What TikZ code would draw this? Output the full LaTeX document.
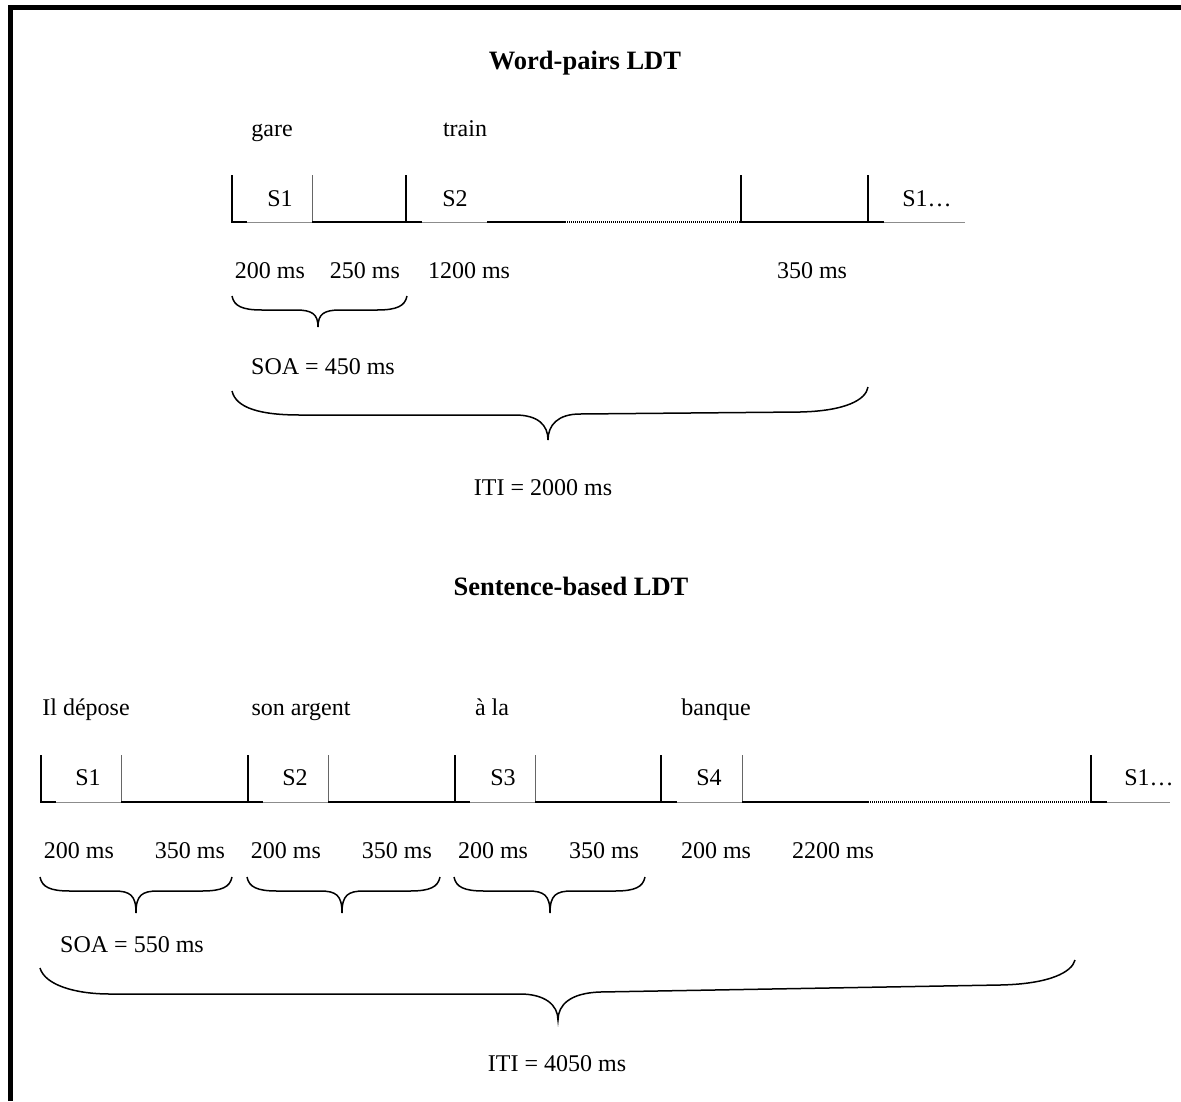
\documentclass[tikz,border=0pt]{standalone}
\usepackage{fontspec}
\setmainfont{Liberation Serif}
\begin{document}
\begin{tikzpicture}[x=1pt,y=-1pt,
  txt/.style={anchor=base,inner sep=0pt,font=\fontsize{24}{28}\selectfont},
  ttl/.style={anchor=base,inner sep=0pt,font=\fontsize{26.5}{30}\selectfont\bfseries},
  thk/.style={line width=2pt,black},
  thn/.style={line width=1pt,black!45},
  tv/.style={line width=1pt,black!60},
  dott/.style={line width=1.8pt,black,dash pattern=on 1.3pt off 0.7pt},
  brc/.style={line width=1.5pt,black},
  frame/.style={line width=5pt,black}]
\useasboundingbox (0,0) rectangle (1181,1101);
% frame (top and left sides visible)
\draw[frame] (10.5,1101) -- (10.5,7.5) -- (1181,7.5);

\newcommand{\wbrace}[6]{% x0 x1 xm ytop ymid ytip
  \draw[brc] (#1,#4) .. controls (#1+2,#5-4) and (#1+10,#5) .. (#1+30,#5)
     -- (#3-22,#5) .. controls (#3-6,#5) and (#3,#5+4) .. (#3,#6)
     .. controls (#3,#5+4) and (#3+6,#5) .. (#3+22,#5)
     -- (#2-30,#5) .. controls (#2-10,#5) and (#2-2,#5-4) .. (#2,#4);}

% ================= Word-pairs LDT =================
\node[ttl] (t1) at (585,69) {Word-pairs LDT};
\node[txt] (w1) at (272,136) {gare};
\node[txt] (w2) at (465,136) {train};

% timeline
\draw[thk] (232,175) -- (232,222) -- (247,222);
\draw[thn] (247,222) -- (312,222);
\draw[tv] (312,175) -- (312,222);
\draw[thk] (312,222) -- (406,222);
\draw[thk] (406,175) -- (406,222) -- (422,222);
\draw[thn] (422,222) -- (487,222);
\draw[thk] (487,222) -- (565,222);
\draw[dott] (565,222) -- (741,222);
\draw[thk] (741,175) -- (741,222) -- (868,222);
\draw[thk] (868,175) -- (868,222) -- (884,222);
\draw[thn] (884,222) -- (965,222);

\node[txt] (s1a) at (280,206) {S1};
\node[txt] (s2a) at (455,206) {S2};
\node[txt] (s1b) at (927,206) {S1\ldots};

\node[txt] (d1) at (270,278) {200 ms};
\node[txt] (d2) at (365,278) {250 ms};
\node[txt] (d3) at (469,278) {1200 ms};
\node[txt] (d4) at (812,278) {350 ms};

\wbrace{232}{407}{318}{296}{310}{327}
\node[txt] (soa1) at (323,374) {SOA = 450 ms};
\draw[brc] (232,391) .. controls (236,408) and (260,415) .. (300,415)
   -- (515,415) .. controls (538,415) and (548,425) .. (548,440)
   .. controls (548,425) and (558,414) .. (580,414)
   -- (800,412) .. controls (845,411) and (866,400) .. (868,387);
\node[txt] (iti1) at (543,495) {ITI = 2000 ms};

% ================= Sentence-based LDT =================
\node[ttl] (t2) at (571,595) {Sentence-based LDT};
\node[txt] (v1) at (86,715) {Il dépose};
\node[txt] (v2) at (301,715) {son argent};
\node[txt] (v3) at (492,715) {à la};
\node[txt] (v4) at (716,715) {banque};

\draw[thk] (41,755) -- (41,802) -- (56,802);
\draw[thn] (56,802) -- (121,802);
\draw[tv] (121,755) -- (121,802);
\draw[thk] (121,802) -- (248,802);
\draw[thk] (248,755) -- (248,802) -- (263,802);
\draw[thn] (263,802) -- (328,802);
\draw[tv] (328,755) -- (328,802);
\draw[thk] (328,802) -- (455,802);
\draw[thk] (455,755) -- (455,802) -- (470,802);
\draw[thn] (470,802) -- (535,802);
\draw[tv] (535,755) -- (535,802);
\draw[thk] (535,802) -- (661,802);
\draw[thk] (661,755) -- (661,802) -- (677,802);
\draw[thn] (677,802) -- (742,802);
\draw[tv] (742,755) -- (742,802);
\draw[thk] (742,802) -- (868,802);
\draw[dott] (868,802) -- (1091,802);
\draw[thk] (1091,755) -- (1091,802) -- (1107,802);
\draw[thn] (1107,802) -- (1170,802);

\node[txt] (r1) at (88,785) {S1};
\node[txt] (r2) at (295,785) {S2};
\node[txt] (r3) at (503,785) {S3};
\node[txt] (r4) at (709,785) {S4};
\node[txt] (r5) at (1149,785) {S1\ldots};

\node[txt] (e1) at (79,858) {200 ms};
\node[txt] (e2) at (190,858) {350 ms};
\node[txt] (e3) at (286,858) {200 ms};
\node[txt] (e4) at (397,858) {350 ms};
\node[txt] (e5) at (493,858) {200 ms};
\node[txt] (e6) at (604,858) {350 ms};
\node[txt] (e7) at (716,858) {200 ms};
\node[txt] (e8) at (833,858) {2200 ms};

\wbrace{40}{232}{136}{877}{891}{913}
\wbrace{247}{440}{342}{877}{891}{913}
\wbrace{454}{645}{550}{877}{891}{913}
\node[txt] (soa2) at (132,952) {SOA = 550 ms};
\draw[brc] (40,968) .. controls (45,985) and (75,994) .. (110,994)
   -- (520,994) .. controls (545,994) and (558,1005) .. (558,1020)
   .. controls (558,1005) and (570,993) .. (600,992)
   -- (1000,985) .. controls (1050,984) and (1072,972) .. (1075,960);
\node[txt] (iti2) at (557,1071) {ITI = 4050 ms};
\end{tikzpicture}
\end{document}
